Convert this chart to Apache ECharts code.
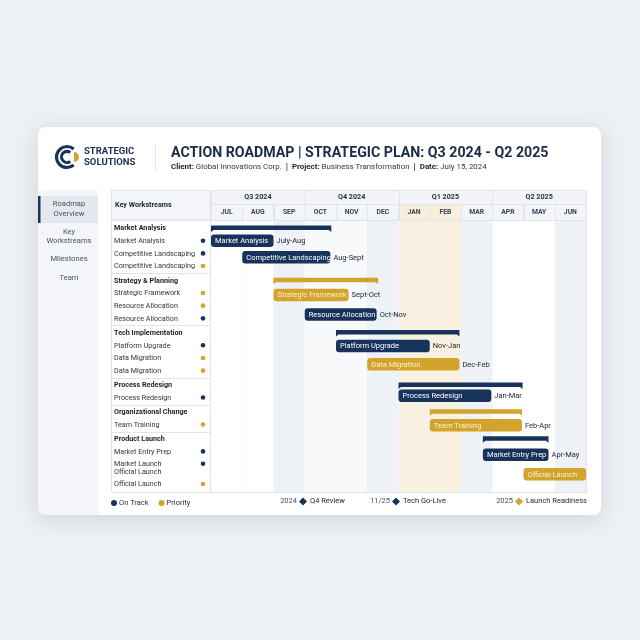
<!DOCTYPE html>
<html><head><meta charset="utf-8">
<script src="https://cdn.jsdelivr.net/npm/echarts@6.0.0/dist/echarts.min.js"></script>
<style>html,body{margin:0;padding:0;background:#edf0f4;}#c{width:640px;height:640px;}</style>
</head><body><div id="c"></div>
<script>
// ---------- DATA ----------
const months = ['JUL','AUG','SEP','OCT','NOV','DEC','JAN','FEB','MAR','APR','MAY','JUN'];
const quarters = ['Q3 2024','Q4 2024','Q1 2025','Q2 2025'];
const groupNames = ['Market Analysis','Strategy & Planning','Tech Implementation','Process Redesign','Organizational Change','Product Launch'];
const groupStart = [0, 2, 4, 6, 7, 8.7];
const groupEnd = [3.85, 5.35, 7.95, 9.97, 9.95, 10.8];
const groupStatus = ['On Track','Priority','On Track','On Track','Priority','On Track'];
const itemNames = ['Market Analysis','Competitive Landscaping','Competitive Landscaping','Strategic Framework','Resource Allocation','Resource Allocation','Platform Upgrade','Data Migration','Data Migration','Process Redesign','Team Training','Market Entry Prep','Market Launch\nOfficial Launch','Official Launch'];
const itemGroup = [0,0,0,1,1,1,2,2,2,3,4,5,5,5];
const itemStatus = ['On Track','On Track','Priority','Priority','Priority','On Track','On Track','Priority','Priority','On Track','Priority','On Track','On Track','Priority'];
const taskNames = ['Market Analysis','Competitive Landscaping','Strategic Framework','Resource Allocation','Platform Upgrade','Data Migration','Process Redesign','Team Training','Market Entry Prep','Official Launch'];
const taskPeriods = ['July-Aug','Aug-Sept','Sept-Oct','Oct-Nov','Nov-Jan','Dec-Feb','Jan-Mar','Feb-Apr','Apr-May',''];
const taskStart = [0, 1, 2, 3, 4, 5, 6, 7, 8.7, 10];
const taskEnd = [2, 3.82, 4.4, 5.3, 7, 7.95, 8.97, 9.95, 10.8, 12];
const taskStatus = ['On Track','On Track','Priority','On Track','On Track','Priority','On Track','Priority','On Track','Priority'];
const taskLane = [1, 2.3, 5.15, 6.7, 9.05, 10.5, 12.85, 15.05, 17.2, 18.4];
const milestoneDates = ['2024','11/25','2025'];
const milestoneNames = ['Q4 Review','Tech Go-Live','Launch Readiness'];
const milestoneStatus = ['On Track','On Track','Priority'];
const statusNames = ['On Track','Priority'];

// ---------- STYLE / LAYOUT ----------
const FONT = 'Roboto, "Noto Sans", sans-serif';
const NAVY = '#17335c', GOLD = '#d2a42e';
const statusColor = s => s === 'On Track' ? NAVY : GOLD;
const COL_FILL = ['#ffffff','#ffffff','#eef2f6','#f7f9fb','#f7f9fb','#eef2f6','#f8f1e1','#f8f1e1','#eef2f6','#ffffff','#ffffff','#eef2f6'];
const HEAD_FILL = months.map((m,i)=> (i===6||i===7) ? '#f7efdc' : '#f4f5f8');
const LINE = '#e1e5ea';

const rows = [];
groupNames.forEach((g, gi) => {
  rows.push({name: g, group: true, gi});
  itemNames.forEach((n, ii) => { if (itemGroup[ii] === gi) rows.push({name: n, group: false, status: itemStatus[ii]}); });
});
const PAD = 0.13, GAP = 0.12, DOUBLE = 1.57;
let cur = PAD;
rows.forEach((r, i) => {
  if (r.group && i > 0) { r.sep = cur + GAP / 2; cur += GAP; }
  const h = r.name.indexOf('\n') >= 0 ? DOUBLE : 1;
  r.center = cur + h / 2; cur += h;
});
const TOTAL = cur + PAD;
function laneY(l) {
  const i = Math.floor(l), f = l - i;
  if (f < 1e-6 || i + 1 >= rows.length) return rows[i].center;
  return rows[i].center + f * (rows[i + 1].center - rows[i].center);
}
const groupRow = groupNames.map((g, gi) => rows.findIndex(r => r.group && r.gi === gi));
const px = v => Math.round(v) + 0.5;

const GL = 211, GT = 220, GW = 375, GH = 272;

function taskRender(params, api) {
  const idx = api.value(3);
  const s = api.coord([api.value(0), api.value(2)]);
  const e = api.coord([api.value(1), api.value(2)]);
  const st = taskStatus[idx];
  const h = 12.5;
  const ch = [
    {type:'rect', shape:{x:s[0], y:s[1]-h/2, width:e[0]-s[0], height:h, r:3}, style:{fill:statusColor(st)}},
    {type:'text', x:s[0]+4, y:s[1]+0.5, style:{text:taskNames[idx], fill: st==='On Track' ? '#ffffff' : '#fcefc9', font:'7.5px ' + FONT, verticalAlign:'middle', align:'left'}}
  ];
  if (taskPeriods[idx]) ch.push({type:'text', x:e[0]+3, y:s[1]+0.5, style:{text:taskPeriods[idx], fill:'#1d2330', font:'7.5px ' + FONT, verticalAlign:'middle', align:'left'}});
  return {type:'group', children: ch};
}
function taskData(status) {
  return taskNames.map((n, i) => [taskStart[i], taskEnd[i], laneY(taskLane[i]), i]).filter(d => taskStatus[d[3]] === status);
}

const option = {
  backgroundColor: '#edf0f4',
  animation: false,
  textStyle: {fontFamily: FONT},
  grid: [
    {left: GL, top: GT, width: GW, height: GH, outerBoundsMode: 'none', containLabel: false},
    {left: 111, top: GT, width: 99, height: GH, outerBoundsMode: 'none', containLabel: false}
  ],
  xAxis: [
    {gridIndex: 0, type: 'value', min: 0, max: 12, show: false},
    {gridIndex: 0, type: 'category', data: months, position: 'top', offset: 0, z: 10,
     axisLine: {show: false}, axisTick: {show: false}, splitLine: {show: false},
     axisLabel: {fontSize: 6.8, fontWeight: 'bold', color: '#3a4354', margin: 8, verticalAlign: 'middle', fontFamily: FONT, interval: 0}},
    {gridIndex: 0, type: 'category', data: quarters, position: 'top', offset: 16, z: 10,
     axisLine: {show: false}, axisTick: {show: false}, splitLine: {show: false},
     axisLabel: {fontSize: 7.2, fontWeight: 'bold', color: '#2a3242', margin: 7, verticalAlign: 'middle', fontFamily: FONT, interval: 0}},
    {gridIndex: 1, type: 'value', min: 0, max: 1, show: false}
  ],
  yAxis: [
    {gridIndex: 0, type: 'value', min: 0, max: TOTAL, inverse: true, show: false},
    {gridIndex: 1, type: 'value', min: 0, max: TOTAL, inverse: true, show: false}
  ],
  legend: {
    data: statusNames, left: 106, top: 494, icon: 'circle', itemWidth: 6, itemHeight: 6, itemGap: 10,
    textStyle: {fontSize: 7.5, color: '#2a3140', fontFamily: FONT, padding: [0, 0, 0, -3]}, selectedMode: false
  },
  graphic: {elements: [
    {type:'rect', z:-10, shape:{x:38, y:127, width:563, height:388, r:8}, style:{fill:'#ffffff', shadowBlur:22, shadowColor:'rgba(30,45,70,0.14)', shadowOffsetY:4}},
    {type:'rect', z:-9, shape:{x:38, y:190, width:60, height:325, r:[0,0,0,8]}, style:{fill:'#f3f5f8'}},
    {type:'rect', z:-8, shape:{x:38, y:196, width:60, height:27}, style:{fill:'#e4e8ee'}},
    {type:'rect', z:-7, shape:{x:38, y:196, width:2.5, height:27}, style:{fill:'#1e3558'}},
    {type:'text', x:69, y:209.5, style:{text:'Roadmap\nOverview', align:'center', verticalAlign:'middle', fill:'#4b5361', font:'7.6px ' + FONT, lineHeight:10}},
    {type:'text', x:69, y:236.5, style:{text:'Key\nWorkstreams', align:'center', verticalAlign:'middle', fill:'#4b5361', font:'7.6px ' + FONT, lineHeight:9.5}},
    {type:'text', x:69, y:259.5, style:{text:'Milestones', align:'center', verticalAlign:'middle', fill:'#4b5361', font:'7.6px ' + FONT}},
    {type:'text', x:69, y:278.5, style:{text:'Team', align:'center', verticalAlign:'middle', fill:'#4b5361', font:'7.6px ' + FONT}},
    // logo
    {type:'arc', shape:{cx:67, cy:157, r:10.5, startAngle:Math.PI*0.28, endAngle:Math.PI*1.72, clockwise:true}, style:{stroke:NAVY, lineWidth:3.2, fill:null}},
    {type:'arc', shape:{cx:67, cy:157, r:5.5, startAngle:Math.PI*0.3, endAngle:Math.PI*1.7, clockwise:true}, style:{stroke:NAVY, lineWidth:3, fill:null}},
    {type:'sector', shape:{cx:74, cy:157, r0:0, r:5, startAngle:-Math.PI/2, endAngle:Math.PI/2, clockwise:true}, style:{fill:GOLD}},
    {type:'text', x:84, y:151.5, style:{text:'STRATEGIC', fill:'#1b2f52', font:'bold 9.5px ' + FONT, verticalAlign:'middle'}},
    {type:'text', x:84, y:162.5, style:{text:'SOLUTIONS', fill:'#1b2f52', font:'bold 9.5px ' + FONT, verticalAlign:'middle'}},
    {type:'rect', shape:{x:155, y:143, width:1, height:29}, style:{fill:'#e2e6eb'}},
    {type:'text', x:171, y:153.5, style:{text:'ACTION ROADMAP | STRATEGIC PLAN: Q3 2024 - Q2 2025', fill:'#1b2a47', font:'bold 14.2px ' + FONT, verticalAlign:'middle'}},
    {type:'text', x:171, y:167.5, style:{
      text:'{b|Client:} Global Innovations Corp.  {s||}  {b|Project:} Business Transformation  {s||}  {b|Date:} July 15, 2024',
      fill:'#2f3644', font:'7.9px ' + FONT, verticalAlign:'middle',
      rich:{b:{fontWeight:'bold', fontSize:7.9, fill:'#1d2330', fontFamily:FONT}, s:{fontSize:9.5, fill:'#1d2330', fontFamily:FONT}}}},
    // left header cell
    {type:'rect', z:-5, shape:{x:111.5, y:190.5, width:99, height:29.5}, style:{fill:'#f3f5f8', stroke:LINE, lineWidth:1}},
    {type:'text', x:115, y:205.5, style:{text:'Key Workstreams', fill:'#1d2330', font:'bold 7.2px ' + FONT, verticalAlign:'middle'}},
    // table borders
    {type:'rect', z:50, shape:{x:111.5, y:190.5, width:475, height:302}, style:{fill:null, stroke:LINE, lineWidth:1}},
    {type:'line', z:50, shape:{x1:210.5, y1:190, x2:210.5, y2:492}, style:{stroke:LINE, lineWidth:1}},
    {type:'line', z:50, shape:{x1:111, y1:220.5, x2:586, y2:220.5}, style:{stroke:LINE, lineWidth:1}},
    // milestones
    ...milestoneNames.flatMap((n, i) => {
      const xs = [303, 396, 519][i];
      return [
        {type:'text', x:xs-6, y:501.5, style:{text:milestoneDates[i], fill:'#4a5160', font:'7.5px ' + FONT, align:'right', verticalAlign:'middle'}},
        {type:'polygon', shape:{points:[[xs, 497.5],[xs+4, 501.5],[xs, 505.5],[xs-4, 501.5]]}, style:{fill:statusColor(milestoneStatus[i])}},
        {type:'text', x:xs+7, y:501.5, style:{text:n, fill:'#1d2330', font:'7.5px ' + FONT, align:'left', verticalAlign:'middle'}}
      ];
    })
  ]},
  series: [
    {type:'custom', name:'columns', xAxisIndex:0, yAxisIndex:0, z:1, silent:true, clip:false,
     data: months.map((m, i) => [i, i + 1]),
     renderItem: (params, api) => {
       const i = api.value(0);
       const a = api.coord([i, 0]), b = api.coord([i + 1, TOTAL]);
       const top = a[1];
       const ch = [
         {type:'rect', shape:{x:a[0], y:a[1], width:b[0]-a[0], height:b[1]-a[1]}, style:{fill:COL_FILL[i]}},
         {type:'rect', shape:{x:px(a[0]), y:px(top-16), width:Math.round(b[0]-a[0]), height:16}, style:{fill:HEAD_FILL[i], stroke:LINE, lineWidth:1}},
         {type:'line', shape:{x1:px(b[0]), y1:top, x2:px(b[0]), y2:b[1]}, style:{stroke:LINE, lineWidth:1}}
       ];
       if (i % 3 === 0) {
         const q = api.coord([i + 3, 0]);
         ch.push({type:'rect', shape:{x:px(a[0]), y:px(top-30), width:Math.round(q[0]-a[0]), height:14}, style:{fill:'#f3f4f7', stroke:LINE, lineWidth:1}});
       }
       return {type:'group', children: ch};
     }},
    {type:'custom', name:'left', xAxisIndex:3, yAxisIndex:1, z:2, silent:true, clip:false,
     data: rows.map((r, i) => [0, r.center, i]),
     renderItem: (params, api) => {
       const r = rows[api.value(2)];
       const p = api.coord([0, r.center]);
       const right = api.coord([1, r.center])[0];
       const ch = [];
       if (r.group) {
         ch.push({type:'text', x:p[0]+3, y:p[1]+0.5, style:{text:r.name, fill:'#1a202c', font:'bold 7.2px ' + FONT, verticalAlign:'middle'}});
         if (r.sep != null) {
           const sy = px(api.coord([0, r.sep])[1]);
           ch.push({type:'line', shape:{x1:p[0], y1:sy, x2:right, y2:sy}, style:{stroke:LINE, lineWidth:1}});
         }
       } else {
         const dbl = r.name.indexOf('\n') >= 0;
         ch.push({type:'text', x:p[0]+3, y:p[1]+0.5, style:{text:r.name, fill:'#2e3543', font:'7.2px ' + FONT, verticalAlign:'middle', lineHeight:8.5}});
         ch.push({type:'circle', shape:{cx:right-7, cy:p[1] - (dbl ? 4 : 0), r:2.3}, style:{fill:statusColor(r.status)}});
       }
       return {type:'group', children: ch};
     }},
    {type:'custom', name:'summary', xAxisIndex:0, yAxisIndex:0, z:3, silent:true, clip:false,
     data: groupNames.map((g, gi) => [groupStart[gi], groupEnd[gi], rows[groupRow[gi]].center, gi]),
     renderItem: (params, api) => {
       const s = api.coord([api.value(0), api.value(2)]), e = api.coord([api.value(1), api.value(2)]);
       const y = s[1] + 0.5;
       const c = statusColor(groupStatus[api.value(3)]);
       return {type:'polygon', shape:{points:[[s[0], y-3],[e[0], y-3],[e[0], y+3.5],[e[0]-2.5, y+1.5],[s[0]+2.5, y+1.5],[s[0], y+3.5]]}, style:{fill:c}};
     }},
    {type:'custom', name:'On Track', xAxisIndex:0, yAxisIndex:0, z:4, clip:false, itemStyle:{color:NAVY},
     data: taskData('On Track'), renderItem: taskRender},
    {type:'custom', name:'Priority', xAxisIndex:0, yAxisIndex:0, z:4, clip:false, itemStyle:{color:GOLD},
     data: taskData('Priority'), renderItem: taskRender}
  ]
};
const chart = echarts.init(document.getElementById('c'), null, {renderer: 'canvas'});
chart.setOption(option);
</script>
</body></html>
